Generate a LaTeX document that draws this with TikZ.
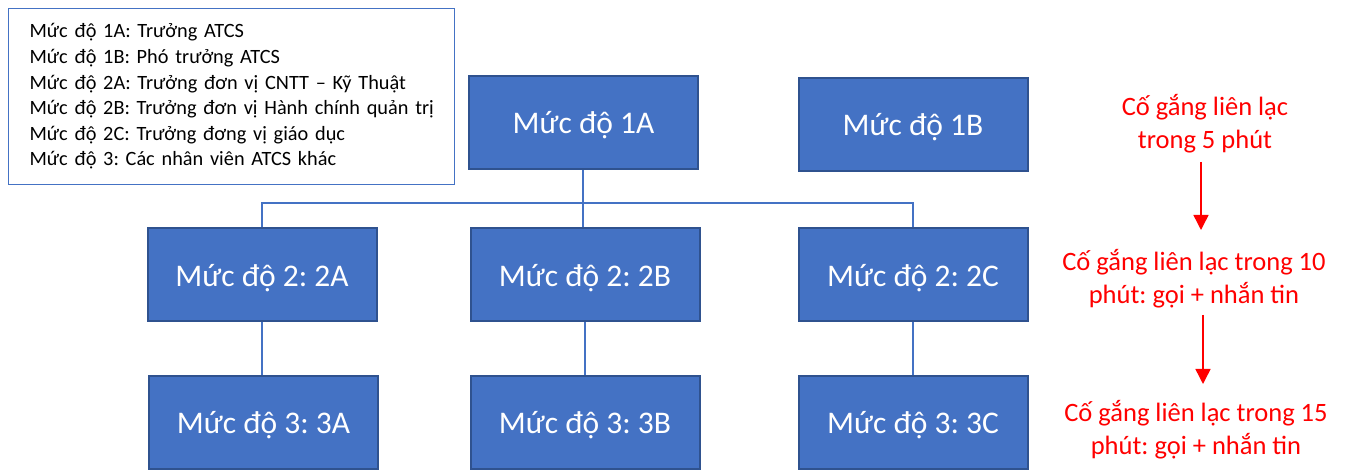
\documentclass[tikz,border=0pt]{standalone}
\usepackage{fontspec}
\setmainfont{Carlito}
\usetikzlibrary{arrows.meta}
\frenchspacing
\definecolor{boxfill}{HTML}{4472C4}
\definecolor{boxedge}{HTML}{2F528F}
\definecolor{linkblue}{HTML}{4472C4}
\definecolor{alertred}{HTML}{FF0000}
\tikzset{
  levelbox/.style={draw=boxedge, line width=2pt, fill=boxfill, text=white,
    minimum width=229pt, minimum height=93pt, inner sep=0pt,
    text height=26pt, text depth=3pt,
    font=\fontsize{31.5}{36}\selectfont},
  link/.style={draw=linkblue, line width=1.2pt},
  legendbox/.style={draw=linkblue, line width=1.2pt, anchor=north west,
    minimum width=446pt, minimum height=176pt, inner xsep=21pt, inner ysep=0pt,
    text width=404pt, align=left, font=\fontsize{20.3}{25.6}\selectfont},
  note/.style={text=alertred, align=center, inner sep=0pt,
    font=\fontsize{26.5}{33}\selectfont},
  escalate/.style={draw=alertred, line width=1.5pt,
    -{Triangle[width=15pt,length=15pt]}}
}
\begin{document}
\begin{tikzpicture}[x=1pt,y=-1pt]
\useasboundingbox (0,0) rectangle (1345,470);

% legend of the levels (each entry kept on one line)
\node[legendbox] (legend) at (8,8) {%
\mbox{Mức độ 1A: Trưởng ATCS}\\
\mbox{Mức độ 1B: Phó trưởng ATCS}\\
\mbox{Mức độ 2A: Trưởng đơn vị CNTT – Kỹ Thuật}\\
\mbox{Mức độ 2B: Trưởng đơn vị Hành chính quản trị}\\
\mbox{Mức độ 2C: Trưởng đơng vị giáo dục}\\
\mbox{Mức độ 3: Các nhân viên ATCS khác}};

% level boxes
\node[levelbox] (n1a) at (583.5,122.5) {Mức độ 1A};
\node[levelbox] (n1b) at (913,124.5) {Mức độ 1B};
\node[levelbox] (n2a) at (262,275) {Mức độ 2: 2A};
\node[levelbox] (n2b) at (585,275) {Mức độ 2: 2B};
\node[levelbox] (n2c) at (913,275) {Mức độ 2: 2C};
\node[levelbox] (n3a) at (263.5,422.5) {Mức độ 3: 3A};
\node[levelbox] (n3b) at (585,422.5) {Mức độ 3: 3B};
\node[levelbox] (n3c) at (913,422.5) {Mức độ 3: 3C};

% tree connectors
\coordinate (bus) at (583,203);
\draw[link] (n1a.south -| bus) -- (bus |- n2b.north);
\draw[link] (n2a.north) |- (bus) -| (n2c.north);
\draw[link] (n2a.south) -- (n2a.south |- n3a.north);
\draw[link] (n2b.south) -- (n2b.south |- n3b.north);
\draw[link] (n2c.south) -- (n2c.south |- n3c.north);

% escalation timeline
\node[note] (t1) at (1205,124) {Cố gắng liên lạc\\trong 5 phút};
\node[note] (t2) at (1194,278.5) {Cố gắng liên lạc trong 10\\phút: gọi + nhắn tin};
\node[note] (t3) at (1196,430) {Cố gắng liên lạc trong 15\\phút: gọi + nhắn tin};
\coordinate (a1s) at (1201,162);
\coordinate (a1e) at (1201,230);
\coordinate (a2s) at (1203,315);
\coordinate (a2e) at (1203,384);
\draw[escalate] (a1s) -- (a1e);
\draw[escalate] (a2s) -- (a2e);
\end{tikzpicture}
\end{document}
